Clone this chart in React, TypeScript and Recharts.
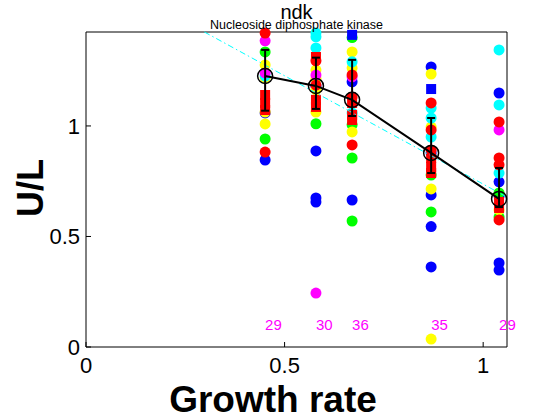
import React from 'react';
import { ScatterChart, Scatter, XAxis, YAxis } from 'recharts';

// growth rate of each condition (x positions of the columns)
const growthRates = [0.451, 0.579, 0.67, 0.869, 1.04];
const sampleCounts = [29, 30, 36, 35, 29];
const countLevel = 0.1;

const xTicks = [0, 0.5, 1];
const yTicks = [0, 0.5, 1];

// mean U/L per column with lower / upper end of error bar
const meanValues = [1.226, 1.181, 1.118, 0.878, 0.67];
const lowerValues = [1.069, 1.077, 1.045, 0.787, 0.633];
const upperValues = [1.344, 1.309, 1.299, 1.036, 0.81];

// linear fit (dash-dot cyan)
const fitLine = [
  { x: 0.298, y: 1.425 },
  { x: 1.06, y: 0.678 },
];

// individual measurements, [column, value]
const blueDots = [
  [0, 1.059], [0, 0.846],
  [1, 1.18], [1, 0.887], [1, 0.674], [1, 0.656],
  [2, 1.2], [2, 0.665],
  [3, 1.267], [3, 0.878], [3, 0.688], [3, 0.545], [3, 0.362],
  [4, 1.149], [4, 0.747], [4, 0.683], [4, 0.38], [4, 0.348],
];
const blueSquares = [[2, 1.412], [3, 1.167]];
const greenDots = [
  [0, 1.335], [0, 0.941],
  [1, 1.01],
  [2, 1.4], [2, 1.005], [2, 0.855], [2, 0.57],
  [3, 0.778], [3, 0.611],
  [4, 0.697], [4, 0.588],
];
const yellowDots = [
  [0, 1.276], [0, 1.217], [0, 1.063], [0, 1.009],
  [1, 1.253], [1, 1.215], [1, 1.163], [1, 1.063],
  [2, 1.335], [2, 1.262], [2, 0.973],
  [3, 1.235], [3, 0.995], [3, 0.715], [3, 0.036],
  [4, 0.62],
];
const cyanDots = [
  [0, 1.226],
  [1, 1.42], [1, 1.403], [1, 1.353],
  [2, 1.29], [2, 1.059],
  [3, 1.081], [3, 1.036], [3, 0.95],
  [4, 1.344], [4, 1.095], [4, 0.787],
];
const magentaDots = [
  [0, 1.385], [0, 1.24],
  [1, 1.23], [1, 0.244],
  [2, 1.222],
  [4, 0.982],
];
const redDots = [
  [0, 1.42], [0, 0.882],
  [1, 1.295], [1, 1.185],
  [2, 1.231], [2, 1.131], [2, 0.914],
  [3, 1.104], [3, 0.982], [3, 0.891],
  [4, 1.018], [4, 0.855], [4, 0.824], [4, 0.575],
];
const redSquares = [
  [0, 1.14], [0, 1.104], [0, 1.072],
  [1, 1.312], [1, 1.118], [1, 1.086],
  [2, 1.104], [2, 1.05], [2, 1.027],
  [3, 0.855], [3, 0.814], [3, 0.787],
  [4, 0.656], [4, 0.629],
];

const toPoints = (list: number[][]) => list.map(([c, v]) => ({ x: growthRates[c], y: v }));

const meanData = growthRates.map((x, i) => ({ x, y: meanValues[i] }));
const errorBars = growthRates.map((x, i) => [
  { x, y: lowerValues[i] },
  { x, y: upperValues[i] },
]);
const countData = growthRates.map((x, i) => ({ x, y: countLevel, n: sampleCounts[i] }));

const FONT = '"Liberation Sans", Arial, Helvetica, sans-serif';

const dot = (color: string) => (p: any) => <circle cx={p.cx} cy={p.cy} r={5.5} fill={color} />;
const square = (color: string) => (p: any) => (
  <rect x={p.cx - 5} y={p.cy - 5} width={10} height={10} fill={color} />
);
const cap = (p: any) => (
  <line x1={p.cx - 4} x2={p.cx + 4} y1={p.cy} y2={p.cy} stroke="#000" strokeWidth={2} />
);
const fmt = (v: number) => String(v);

const dotGroups = [
  { name: 'blue', color: '#0000ff', data: blueDots, squares: blueSquares },
  { name: 'green', color: '#00ff00', data: greenDots, squares: [] },
  { name: 'yellow', color: '#ffff00', data: yellowDots, squares: [] },
  { name: 'cyan', color: '#00ffff', data: cyanDots, squares: [] },
  { name: 'magenta', color: '#ff00ff', data: magentaDots, squares: [] },
  { name: 'red', color: '#ff0000', data: redDots, squares: redSquares },
];

export default function App() {
  return (
    <div style={{ position: 'absolute', left: 0, top: 0, width: 560, height: 420, background: '#fff' }}>
      <ScatterChart width={560} height={420} margin={{ top: 0, right: 0, bottom: 0, left: 0 }}>
        <XAxis
          type="number"
          dataKey="x"
          domain={[0, 1.06]}
          ticks={xTicks}
          height={73}
          tickSize={0}
          tickMargin={0}
          axisLine={{ stroke: '#000' }}
          tickLine={false}
          tick={(p: any) => (
            <g>
              <line x1={p.x} x2={p.x} y1={p.y} y2={p.y - 5} stroke="#000" />
              <text x={p.x} y={p.y + 26} textAnchor="middle" fontSize={22} fontFamily={FONT} fill="#000">
                {fmt(p.payload.value)}
              </text>
            </g>
          )}
        />
        <XAxis
          xAxisId="top"
          orientation="top"
          type="number"
          domain={[0, 1.06]}
          ticks={xTicks}
          height={32}
          tickSize={0}
          tickMargin={0}
          axisLine={{ stroke: '#000' }}
          tickLine={false}
          tick={(p: any) => <line x1={p.x} x2={p.x} y1={p.y} y2={p.y + 5} stroke="#000" />}
        />
        <YAxis
          type="number"
          dataKey="y"
          domain={[0, 1.425]}
          ticks={yTicks}
          width={86}
          tickSize={0}
          tickMargin={0}
          axisLine={{ stroke: '#000' }}
          tickLine={false}
          tick={(p: any) => (
            <g>
              <line x1={p.x} x2={p.x + 5} y1={p.y} y2={p.y} stroke="#000" />
              <text x={p.x - 6} y={p.y + 8} textAnchor="end" fontSize={22} fontFamily={FONT} fill="#000">
                {fmt(p.payload.value)}
              </text>
            </g>
          )}
        />
        <YAxis
          yAxisId="right"
          orientation="right"
          type="number"
          domain={[0, 1.425]}
          ticks={yTicks}
          width={53}
          tickSize={0}
          tickMargin={0}
          axisLine={{ stroke: '#000' }}
          tickLine={false}
          tick={(p: any) => <line x1={p.x} x2={p.x - 5} y1={p.y} y2={p.y} stroke="#000" />}
        />

        {dotGroups.map((g) => (
          <Scatter
            key={g.name}
            name={g.name}
            data={toPoints(g.data)}
            shape={dot(g.color)}
            isAnimationActive={false}
          />
        ))}
        {dotGroups
          .filter((g) => g.squares.length > 0)
          .map((g) => (
            <Scatter
              key={g.name + '-sq'}
              name={g.name + ' squares'}
              data={toPoints(g.squares)}
              shape={square(g.color)}
              isAnimationActive={false}
            />
          ))}

        <Scatter
          name="fit"
          data={fitLine}
          line={{ stroke: '#00ffff', strokeWidth: 1, strokeDasharray: '6 3 1.5 3' }}
          shape={() => <g />}
          isAnimationActive={false}
        />

        <Scatter
          name="mean"
          data={meanData}
          line={{ stroke: '#000', strokeWidth: 2 }}
          shape={(p: any) => <circle cx={p.cx} cy={p.cy} r={7.5} fill="none" stroke="#000" strokeWidth={1.5} />}
          isAnimationActive={false}
        />
        {errorBars.map((bar, i) => (
          <Scatter
            key={'err' + i}
            name={'error ' + i}
            data={bar}
            line={{ stroke: '#000', strokeWidth: 2 }}
            shape={cap}
            isAnimationActive={false}
          />
        ))}

        <Scatter
          name="counts"
          data={countData}
          shape={(p: any) => (
            <text x={p.cx} y={p.cy + 5} fontSize={15} fontFamily={FONT} fill="#ff00ff">
              {p.payload.n}
            </text>
          )}
          isAnimationActive={false}
        />
      </ScatterChart>

      <svg
        width={560}
        height={420}
        style={{ position: 'absolute', left: 0, top: 0, pointerEvents: 'none' }}
        fontFamily={FONT}
      >
        <text x={296.5} y={18.5} textAnchor="middle" fontSize={20} fill="#000">
          ndk
        </text>
        <text x={296.5} y={29} textAnchor="middle" fontSize={12.5} fill="#000">
          Nucleoside diphosphate kinase
        </text>
        <text x={273} y={412} textAnchor="middle" fontSize={37} fontWeight="bold" fill="#000">
          Growth rate
        </text>
        <text
          x={43}
          y={188}
          textAnchor="middle"
          fontSize={36}
          fontWeight="bold"
          fill="#000"
          transform="rotate(-90 43 188)"
        >
          U/L
        </text>
      </svg>
    </div>
  );
}
